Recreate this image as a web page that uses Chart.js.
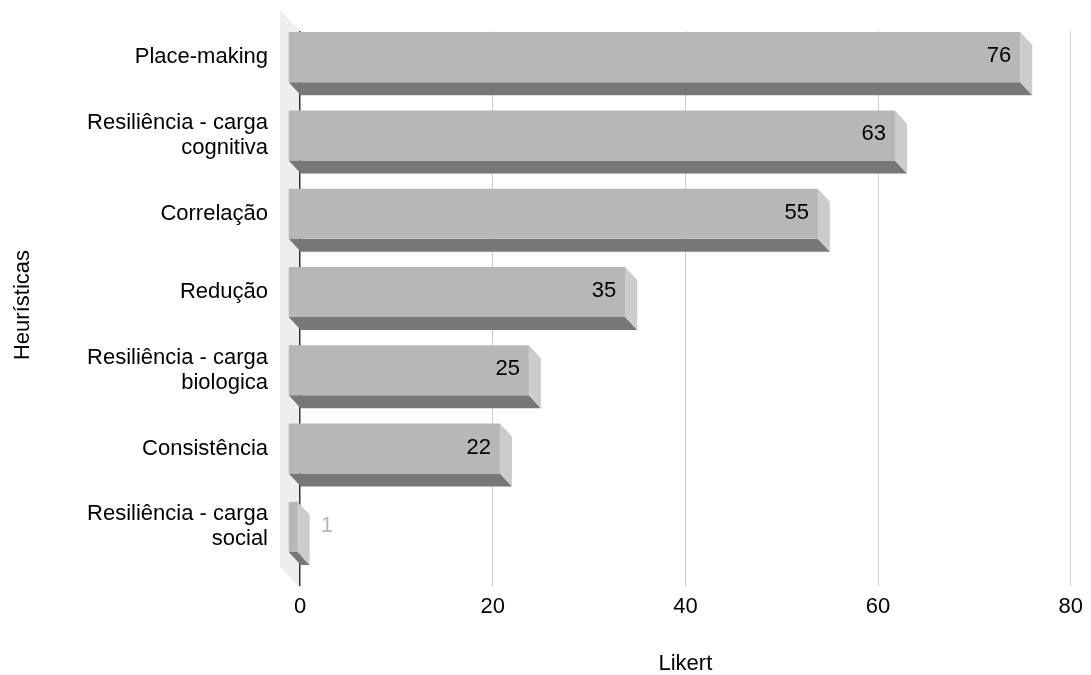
<!DOCTYPE html>
<html>
<head>
<meta charset="utf-8">
<script src="https://cdn.jsdelivr.net/npm/chart.js@4/dist/chart.umd.min.js"></script>
<style>
  html, body { margin: 0; padding: 0; background: #ffffff; }
  #wrap { width: 1091px; height: 675px; }
</style>
</head>
<body>
<div id="wrap"><canvas id="chart" width="1091" height="675"></canvas></div>
<script>
// Categories (multi-line where the label wraps), Likert totals and axis ticks
const categories = [
  'Place-making',
  ['Resiliência - carga', 'cognitiva'],
  'Correlação',
  'Redução',
  ['Resiliência - carga', 'biologica'],
  'Consistência',
  ['Resiliência - carga', 'social']
];
const likertValues = [76, 63, 55, 35, 25, 22, 1];
const xTickValues = [0, 20, 40, 60, 80];

const FONT = 'Liberation Sans, Arial, Helvetica, sans-serif';
const FONT_SIZE = 22;
const DX = 12;   // depth offset of the bar boxes, horizontal
const DY = 13;   // depth offset of the bar boxes, vertical
const FRONT = '#b7b7b7';
const SIDE = '#cccccc';
const UNDER = '#777777';
const WALL = '#eeeeee';

// Pseudo-3D boxes: the library draws the front face of each bar (shifted
// toward the viewer); side and underside faces come from the same element geometry.
const depthPlugin = {
  id: 'depth',
  beforeDraw(chart) {
    const { ctx, chartArea: a } = chart;
    const x0 = chart.scales.x.getPixelForValue(0);
    ctx.save();
    ctx.fillStyle = '#ffffff';
    ctx.fillRect(0, 0, chart.width, chart.height);
    ctx.fillStyle = WALL;
    ctx.beginPath();
    ctx.moveTo(x0 - 20, a.top - 21);
    ctx.lineTo(x0, a.top);
    ctx.lineTo(x0, a.bottom + 9);
    ctx.lineTo(x0 - 20, a.bottom - 12);
    ctx.closePath();
    ctx.fill();
    ctx.restore();
  },
  beforeDatasetDraw(chart, args) {
    const ctx = chart.ctx;
    ctx.save();
    args.meta.data.forEach(bar => {
      const { x, y, base, height } = bar.getProps(['x', 'y', 'base', 'height'], true);
      const top = y - height / 2;
      const bottom = y + height / 2;
      ctx.fillStyle = UNDER;
      ctx.beginPath();
      ctx.moveTo(base - DX, bottom - DY);
      ctx.lineTo(x - DX, bottom - DY);
      ctx.lineTo(x, bottom);
      ctx.lineTo(base, bottom);
      ctx.closePath();
      ctx.fill();
      ctx.fillStyle = SIDE;
      ctx.beginPath();
      ctx.moveTo(x - DX, top - DY);
      ctx.lineTo(x, top);
      ctx.lineTo(x, bottom);
      ctx.lineTo(x - DX, bottom - DY);
      ctx.closePath();
      ctx.fill();
    });
    ctx.translate(-DX, -DY);
  },
  afterDatasetDraw(chart, args) {
    const ctx = chart.ctx;
    ctx.restore();
    const values = chart.data.datasets[args.index].data;
    ctx.save();
    ctx.font = FONT_SIZE + 'px ' + FONT;
    ctx.textBaseline = 'middle';
    args.meta.data.forEach((bar, i) => {
      const { x, y, base } = bar.getProps(['x', 'y', 'base'], true);
      const text = String(values[i]);
      const w = ctx.measureText(text).width;
      const cy = y - DY - 1;
      if ((x - base) > w + 24) {
        ctx.fillStyle = '#000000';
        ctx.textAlign = 'right';
        ctx.fillText(text, x - DX - 9, cy);
      } else {
        ctx.fillStyle = '#b7b7b7';
        ctx.textAlign = 'left';
        ctx.fillText(text, x + 11, cy);
      }
    });
    ctx.restore();
  }
};

new Chart(document.getElementById('chart'), {
  type: 'bar',
  data: {
    labels: categories,
    datasets: [{
      label: 'Likert',
      data: likertValues,
      backgroundColor: FRONT,
      borderWidth: 0,
      categoryPercentage: 1,
      barPercentage: 0.64,
      clip: false
    }]
  },
  plugins: [depthPlugin],
  options: {
    indexAxis: 'y',
    responsive: false,
    animation: false,
    devicePixelRatio: 1,
    layout: { padding: { top: 31, right: 19, left: 0, bottom: 0 } },
    plugins: {
      legend: { display: false },
      tooltip: { enabled: false }
    },
    scales: {
      x: {
        type: 'linear',
        min: xTickValues[0],
        max: xTickValues[xTickValues.length - 1],
        afterBuildTicks(scale) {
          scale.ticks = xTickValues.map(v => ({ value: v }));
        },
        afterFit(scale) { scale.height = 96; },
        border: { display: false },
        grid: {
          color: ctx => (ctx.tick && ctx.tick.value === 0 ? '#333333' : '#cccccc'),
          lineWidth: ctx => (ctx.tick && ctx.tick.value === 0 ? 1.5 : 1),
          drawTicks: true,
          tickLength: 7
        },
        ticks: {
          color: '#000000',
          font: { family: FONT, size: FONT_SIZE },
          padding: 8,
          maxRotation: 0
        },
        title: {
          display: true,
          text: 'Likert',
          color: '#000000',
          font: { family: FONT, size: FONT_SIZE, lineHeight: 1.05 },
          padding: { top: 0, bottom: 0 }
        }
      },
      y: {
        afterFit(scale) {
          scale.width = 300;
          scale.paddingTop = 0;
          scale.paddingBottom = 0;
        },
        border: { display: false },
        grid: { display: false, drawTicks: false },
        ticks: {
          color: '#000000',
          font: { family: FONT, size: FONT_SIZE, lineHeight: 1.136 },
          padding: 32,
          labelOffset: -13
        },
        title: {
          display: true,
          text: 'Heurísticas',
          color: '#000000',
          font: { family: FONT, size: FONT_SIZE },
          padding: { top: 10, bottom: 0 }
        }
      }
    }
  }
});
</script>
</body>
</html>
